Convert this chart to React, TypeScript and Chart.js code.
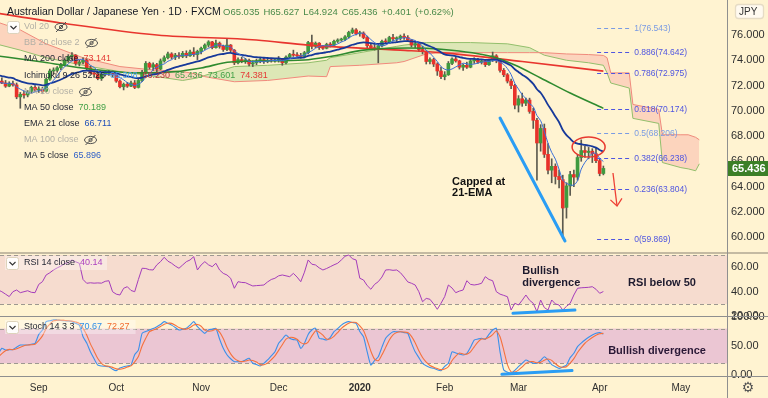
import React, { useEffect, useRef } from 'react';
import { Chart, registerables } from 'chart.js';

Chart.register(...registerables);

// ---------------- categories (trading days) ----------------
const FIRST_BAR = '2019-08-14';
const FIRST_VISIBLE = '2019-08-19';
const LAST_AXIS_DAY = '2020-05-19';
const MONTHS = ['Jan', 'Feb', 'Mar', 'Apr', 'May', 'Jun', 'Jul', 'Aug', 'Sep', 'Oct', 'Nov', 'Dec'];

function weekdays(from: string, to: string): string[] {
  const out: string[] = [];
  const d = new Date(from + 'T00:00:00Z');
  const end = new Date(to + 'T00:00:00Z');
  while (d <= end) {
    const wd = d.getUTCDay();
    if (wd !== 0 && wd !== 6) out.push(d.toISOString().slice(0, 10));
    d.setUTCDate(d.getUTCDate() + 1);
  }
  return out;
}
const dates = weekdays(FIRST_BAR, LAST_AXIS_DAY);

// ---------------- OHLC (AUD/JPY daily) ----------------
const open = [
  72.30, 72.05, 72.25, 72.35, 72.20, 71.95, 72.15, 72.05, 71.10, 71.30,
  71.25, 71.50, 71.85, 71.65, 71.70, 71.55, 72.50, 73.15, 73.20, 73.40,
  73.65, 74.00, 74.30, 74.40, 73.75, 73.85, 74.00, 73.40, 73.00, 72.90,
  72.55, 72.90, 72.95, 73.05, 72.85, 72.35, 71.90, 72.10, 71.95, 72.20,
  71.85, 72.40, 73.05, 73.75, 73.45, 73.65, 73.30, 73.95, 74.20, 74.50,
  74.25, 74.40, 74.30, 74.55, 74.35, 74.65, 74.45, 74.70, 74.95, 75.20,
  75.45, 75.00, 75.35, 75.10, 74.85, 75.20, 74.80, 73.80, 74.05, 73.95,
  74.00, 73.70, 73.80, 73.95, 74.05, 73.90, 74.00, 73.95, 74.00, 74.10,
  73.80, 74.25, 74.45, 74.40, 74.35, 74.30, 74.60, 75.40, 75.10, 75.35,
  75.00, 74.95, 75.25, 75.20, 75.50, 75.60, 75.65, 75.85, 76.20, 76.40,
  76.10, 76.15, 75.80, 75.15, 75.00, 74.90, 75.15, 75.50, 75.45, 75.80,
  75.70, 75.75, 75.90, 75.80, 75.60, 75.20, 75.30, 74.85, 74.70, 73.90,
  74.05, 73.70, 73.15, 72.70, 72.85, 73.75, 74.10, 73.95, 73.45, 73.60,
  73.45, 73.95, 74.05, 73.85, 73.95, 73.65, 74.00, 74.35, 73.95, 73.20,
  72.85, 72.35, 72.00, 70.45, 70.95, 70.60, 70.85, 69.95, 69.25, 67.45,
  68.60, 66.55, 65.30, 65.60, 64.80, 64.55, 62.35, 64.05, 64.95, 64.75,
  66.30, 66.85, 66.70, 66.80, 66.60, 66.05, 65.035,
];
const high = [
  72.55, 72.35, 72.50, 72.60, 72.40, 72.30, 72.35, 72.20, 71.45, 71.55,
  71.60, 71.95, 72.00, 71.90, 71.85, 72.60, 73.30, 73.40, 73.50, 73.75,
  74.10, 74.45, 74.60, 74.45, 74.00, 74.20, 74.10, 73.55, 73.15, 73.00,
  73.00, 73.10, 73.20, 73.15, 73.10, 72.45, 72.20, 72.25, 72.35, 72.40,
  72.50, 73.20, 73.90, 73.85, 73.80, 73.75, 74.10, 74.35, 74.65, 74.60,
  74.55, 74.60, 74.70, 74.75, 74.80, 75.00, 74.80, 75.05, 75.30, 75.55,
  75.50, 75.60, 75.45, 75.20, 75.70, 75.25, 74.85, 74.20, 74.25, 74.15,
  74.10, 73.95, 74.10, 74.15, 74.15, 74.10, 74.15, 74.10, 74.30, 74.15,
  74.35, 74.55, 74.80, 74.60, 74.55, 74.70, 75.50, 76.00, 75.45, 75.40,
  75.15, 75.35, 75.40, 75.60, 75.70, 75.75, 75.95, 76.30, 76.55, 76.50,
  76.30, 76.25, 75.90, 75.30, 75.25, 75.30, 75.60, 75.70, 75.90, 76.05,
  75.85, 76.00, 76.10, 75.95, 75.65, 75.45, 75.35, 75.10, 74.75, 74.20,
  74.15, 73.80, 73.45, 73.10, 73.90, 74.20, 74.25, 74.00, 73.70, 73.85,
  74.05, 74.20, 74.15, 74.05, 74.00, 74.10, 74.65, 74.45, 74.00, 73.35,
  72.95, 72.50, 72.10, 71.20, 71.40, 71.00, 71.00, 70.20, 69.40, 68.90,
  68.95, 67.40, 66.20, 65.80, 65.30, 64.90, 64.30, 65.20, 65.30, 66.50,
  67.70, 67.20, 67.10, 67.00, 67.10, 66.20, 65.627,
];
const low = [
  71.90, 71.80, 72.10, 72.15, 71.85, 71.90, 71.95, 70.95, 70.20, 71.00,
  71.10, 71.40, 71.50, 71.45, 71.35, 71.50, 72.40, 72.90, 73.05, 73.25,
  73.55, 73.85, 74.05, 73.60, 73.55, 73.70, 73.25, 72.90, 72.65, 72.45,
  72.40, 72.75, 72.80, 72.70, 72.25, 71.80, 71.65, 71.85, 71.90, 71.75,
  71.80, 72.30, 72.95, 73.30, 73.20, 73.10, 73.25, 73.85, 74.10, 74.10,
  74.05, 74.15, 74.20, 74.20, 74.30, 74.30, 74.05, 74.50, 74.85, 75.05,
  74.90, 74.95, 74.95, 74.70, 74.75, 74.65, 73.65, 73.70, 73.80, 73.75,
  73.55, 73.50, 73.65, 73.80, 73.75, 73.80, 73.85, 73.85, 73.85, 73.60,
  73.70, 74.15, 74.30, 74.25, 74.15, 74.20, 74.50, 74.90, 75.00, 74.85,
  74.85, 74.90, 75.05, 75.15, 75.40, 75.50, 75.55, 75.75, 76.10, 76.00,
  75.90, 75.70, 75.00, 74.85, 74.80, 73.80, 75.05, 75.30, 75.40, 75.55,
  75.50, 75.60, 75.65, 75.50, 75.05, 75.00, 74.70, 74.50, 73.70, 73.70,
  73.50, 72.80, 72.55, 72.45, 72.80, 73.65, 73.85, 73.30, 73.20, 73.35,
  73.40, 73.75, 73.75, 73.70, 73.50, 73.60, 73.90, 73.80, 73.05, 72.70,
  72.20, 71.75, 70.15, 69.90, 70.35, 70.40, 69.80, 68.60, 64.50, 66.80,
  66.30, 65.00, 64.30, 64.20, 63.90, 59.87, 61.50, 63.30, 64.00, 64.50,
  66.00, 66.30, 66.20, 65.90, 65.90, 64.85, 64.924,
];
const close = [
  72.05, 72.25, 72.35, 72.20, 71.95, 72.15, 72.05, 71.10, 71.30, 71.25,
  71.50, 71.85, 71.65, 71.70, 71.55, 72.50, 73.15, 73.20, 73.40, 73.65,
  74.00, 74.30, 74.40, 73.75, 73.85, 74.00, 73.40, 73.00, 72.90, 72.55,
  72.90, 72.95, 73.05, 72.85, 72.35, 71.90, 72.10, 71.95, 72.20, 71.85,
  72.40, 73.05, 73.75, 73.45, 73.65, 73.30, 73.95, 74.20, 74.50, 74.25,
  74.40, 74.30, 74.55, 74.35, 74.65, 74.45, 74.70, 74.95, 75.20, 75.45,
  75.00, 75.35, 75.10, 74.85, 75.20, 74.80, 73.80, 74.05, 73.95, 74.00,
  73.70, 73.80, 73.95, 74.05, 73.90, 74.00, 73.95, 74.00, 74.10, 73.80,
  74.25, 74.45, 74.40, 74.35, 74.30, 74.60, 75.40, 75.10, 75.35, 75.00,
  74.95, 75.25, 75.20, 75.50, 75.60, 75.65, 75.85, 76.20, 76.40, 76.10,
  76.15, 75.80, 75.15, 75.00, 74.90, 75.15, 75.50, 75.45, 75.80, 75.70,
  75.75, 75.90, 75.80, 75.60, 75.20, 75.30, 74.85, 74.70, 73.90, 74.05,
  73.70, 73.15, 72.70, 72.85, 73.75, 74.10, 73.95, 73.45, 73.60, 73.45,
  73.95, 74.05, 73.85, 73.95, 73.65, 74.00, 74.35, 73.95, 73.20, 72.85,
  72.35, 72.00, 70.45, 70.95, 70.60, 70.85, 69.95, 69.25, 67.45, 68.60,
  66.55, 65.30, 65.60, 64.80, 64.55, 62.30, 64.05, 64.95, 64.75, 66.30,
  66.85, 66.70, 66.80, 66.60, 66.05, 65.035, 65.436,
];

// ---------------- indicators ----------------
const EMA21_SEED = 73.0; // EMA value just before the first bar (read)
const ma50Idx = [0, 14, 27, 40, 50, 57, 65, 85, 92, 101, 113, 122, 136, 142, 149, 157, 166];
const ma50Val = [74.42, 73.86, 73.3, 73.0, 73.1, 73.39, 73.86, 74.02, 74.3, 74.8, 74.97, 74.87, 74.28, 73.62, 72.6, 71.4, 70.189];
const ma200Idx = [0, 19, 45, 72, 86, 111, 122, 144, 166];
const ma200Val = [77.8, 76.95, 76.0, 75.6, 75.2, 74.8, 74.6, 73.9, 73.141];
const cloudIdx = [0, 8, 15, 25, 35, 45, 52, 56, 58, 66, 75, 86, 91, 92, 100, 110, 112, 118, 122, 130, 140, 146, 150, 156, 162, 166, 167, 168, 173, 174, 181, 182, 187, 189, 191, 192];
const senkouA = [75.4, 74.8, 74.2, 73.6, 73.1, 72.7, 72.4, 72.6, 72.8, 73.5, 73.6, 73.8, 74.0, 74.2, 74.6, 75.1, 75.2, 75.4, 75.4, 75.4, 75.3, 75.0, 74.4, 74.0, 73.8, 73.601, 73.0, 72.2, 71.8, 69.4, 69.0, 65.9, 65.5, 65.4, 65.25, 65.8];
const senkouB = [77.2, 76.4, 75.3, 74.2, 73.5, 73.2, 73.1, 72.9, 72.7, 72.3, 72.4, 72.75, 72.7, 73.5, 73.6, 73.8, 73.9, 74.5, 74.6, 74.6, 74.6, 74.6, 74.6, 74.5, 74.45, 74.381, 74.2, 73.0, 73.0, 70.5, 70.1, 68.1, 68.1, 68.1, 67.9, 67.7];

const rsi14 = [
  40, 40.5, 41.4, 40, 38, 36, 40, 41.4, 39.2, 40,
  40.8, 39.5, 39.2, 46, 48.2, 53.7, 55.5, 57.8, 59.5, 61,
  63, 63.8, 66, 64.5, 63.3, 50, 46.9, 47.3, 47, 47.2,
  47, 48.5, 49, 40, 38, 37.3, 42.8, 44.1, 41, 40,
  50, 59.2, 59, 58, 57.8, 62, 64.6, 68.2, 65, 63.3,
  61, 59.2, 61.9, 64.6, 66, 68.7, 57.8, 61.9, 64.6, 62,
  60.5, 63.3, 57.8, 55, 53.7, 51, 42.8, 48.2, 47.6, 47.4,
  46, 44.7, 45, 45.2, 45.5, 48, 50, 51, 53, 53.7,
  53, 52.3, 55, 52, 48.2, 56, 66, 62.5, 61.9, 59.5,
  57.8, 59, 60.5, 62, 63.3, 66, 69, 70.1, 67, 66,
  51, 49.6, 45, 42, 46, 48.2, 52, 57.8, 58, 57.5,
  57.8, 55.6, 52, 48, 46.9, 45.5, 40, 31.8, 34.5, 33.8,
  30, 25.6, 30.5, 36, 45.5, 43, 39.2, 40.5, 41.4, 49,
  46, 45.5, 46, 46.9, 52.3, 50, 49, 40, 38, 37,
  35.9, 25, 30.5, 29.1, 33, 37.3, 33, 30.5, 23.6, 33.2,
  27, 25, 33.2, 30, 29.1, 25, 28, 30.5, 37.3, 42.8,
  43.2, 43.4, 43.6, 44.1, 42, 38.7, 40.14,
];
const stochK = [
  28.7, 28.7, 36, 46, 43, 43.5, 44, 48, 51.7, 51.7,
  51.7, 53, 54.6, 70, 77.6, 92, 93.5, 94.8, 94.5, 94,
  93.6, 93, 92, 89, 86, 66, 55, 40, 28, 17.2,
  15.5, 15, 14.4, 10, 7.5, 12, 14.4, 15.5, 17.2, 35,
  43, 71.8, 75, 77.6, 80, 83.3, 87, 92, 89, 86,
  82, 77.6, 79, 80.5, 86, 92, 83.3, 77, 71.8, 77.6,
  79, 80.5, 62, 46, 35, 28, 23, 23, 23, 26,
  28.7, 20.2, 18, 15.5, 20, 25.9, 33, 40, 54.6, 62,
  69, 63.3, 61, 60.3, 46, 54.6, 70, 77.6, 80.5, 63.3,
  62, 60.3, 65, 74.6, 80, 86, 90, 92, 90.5, 89,
  75, 66, 40, 17.2, 25, 31.6, 48, 63.3, 70, 74.6,
  74.6, 74.6, 73, 71.8, 55, 40, 30, 20.2, 16, 13,
  11.5, 9, 7.5, 15, 20.2, 40, 38, 36, 34.5, 37.4,
  48, 60.3, 62, 63.3, 61.5, 70, 77.6, 80.5, 40, 8.6,
  5, 2.9, 8, 14.4, 20, 25.9, 23, 20.2, 20.2, 25,
  31.6, 25.9, 18, 14.4, 11.5, 14, 17.2, 30, 37.4, 48.9,
  55, 60.3, 65, 69, 71.8, 73, 70.67,
];

// ---------------- Fibonacci retracement ----------------
const fibLevels = [1, 0.886, 0.786, 0.618, 0.5, 0.382, 0.236, 0];
const fibPrices = [76.543, 74.642, 72.975, 70.174, 68.206, 66.238, 63.804, 59.869];
const fibSpan = [164.3, 173.8]; // bar indexes

// ---------------- drawings (data coordinates: [barIndex, value]) ----------------
const wedgeLine = [[138.0, 69.43], [155.6, 59.69]];
const rsiDivLine = [[141.5, 22.3], [158.3, 25.0]];
const stochDivLine = [[138.5, 1.2], [157.5, 7.8]];
const capEllipse = [162.0, 67.13];
const downArrow = [[168.6, 65.07], [169.7, 62.46]];
const noteCapped = { at: [125.0, 64.16], at2: [125.0, 63.25], lines: ['Capped at', '21-EMA'] };
const noteRsiDiv = { at: [144.0, 54.5], at2: [144.0, 44.7], lines: ['Bullish', 'divergence'] };
const noteRsi50 = { at: [172.7, 44.7], text: 'RSI below 50' };
const noteStochDiv = { at: [167.3, 36.2], text: 'Bullish divergence' };

// ---------------- axis ticks ----------------
const priceTicks = [60, 62, 64, 66, 68, 70, 72, 74, 76];
const rsiTicks = [20, 40, 60];
const stochTicks = [0, 50, 100];

// ---------------- legend texts ----------------
const TITLE = 'Australian Dollar / Japanese Yen · 1D · FXCM';
const OHLC_TEXT = ['O65.035', 'H65.627', 'L64.924', 'C65.436', '+0.401', '(+0.62%)'];
const ICHI_VALUES = ['65.308', '66.230', '65.436', '73.601', '74.381'];
const LEG_MA200 = '73.141';
const LEG_MA50 = '70.189';
const LEG_EMA21 = '66.711';
const LEG_MA5 = '65.896';
const LEG_RSI = '40.14';
const LEG_K = '70.67';
const LEG_D = '72.27';

// ---------------- styles ----------------
const FONT = "'Liberation Sans', Arial, Helvetica, sans-serif";
const BG = '#fff3d1';
const RSI_BAND = '#f6dccf';
const STOCH_BAND = '#ebc6d3';
const UP = '#3f9a3f';
const DOWN = '#e8312a';
const WICK = '#5c5a4e';
const BLUE_DRAW = '#2a9df4';

// ---------------- derived series (indicator definitions) ----------------
const N = close.length;
const ma5 = close.map((_, i) => {
  const s = close.slice(Math.max(0, i - 4), i + 1);
  return s.reduce((a, b) => a + b, 0) / s.length;
});
const ema21: number[] = [];
{
  const k = 2 / 22;
  let e = EMA21_SEED;
  close.forEach((c) => { e = e + k * (c - e); ema21.push(e); });
}
const stochD = stochK.map((_, i) => {
  const s = stochK.slice(Math.max(0, i - 2), i + 1);
  return s.reduce((a, b) => a + b, 0) / s.length;
});
const pts = (idx: number[], vals: number[]) => idx.map((i, k) => ({ x: dates[i], y: vals[k] }));

const wickData = dates.map((_, i) => (i < N ? [low[i], high[i]] : null));
const bodyData = dates.map((_, i) => (i < N ? [open[i], close[i]] : null));
const bodyColors = open.map((o, i) => (close[i] >= o ? UP : DOWN));

// ---------------- drawing helpers ----------------
function hline(ctx: any, x0: number, x1: number, y: number, color: string, w: number) {
  ctx.strokeStyle = color; ctx.lineWidth = w;
  ctx.beginPath(); ctx.moveTo(x0, y); ctx.lineTo(x1, y); ctx.stroke();
}
function band(ctx: any, x0: number, x1: number, yTop: number, yBot: number, fill: string) {
  ctx.fillStyle = fill;
  ctx.fillRect(x0, yTop, x1 - x0, yBot - yTop);
  ctx.setLineDash([4, 3]);
  hline(ctx, x0, x1, Math.round(yTop) + 0.5, '#9d9890', 1);
  hline(ctx, x0, x1, Math.round(yBot) + 0.5, '#9d9890', 1);
  ctx.setLineDash([]);
}
function eyeOff(ctx: any, cx: number, cy: number) {
  ctx.save();
  ctx.strokeStyle = '#505050'; ctx.lineWidth = 1;
  ctx.beginPath(); ctx.ellipse(cx, cy, 6, 3.6, 0, 0, Math.PI * 2); ctx.stroke();
  ctx.beginPath(); ctx.arc(cx, cy, 1.6, 0, Math.PI * 2); ctx.stroke();
  ctx.beginPath(); ctx.moveTo(cx - 5, cy + 5); ctx.lineTo(cx + 5, cy - 5); ctx.stroke();
  ctx.restore();
}
function chevronBox(ctx: any, x: number, y: number) {
  ctx.save();
  ctx.fillStyle = 'rgba(255,255,255,0.9)';
  ctx.strokeStyle = '#ddd3bb'; ctx.lineWidth = 1;
  ctx.beginPath();
  (ctx as any).roundRect(x + 0.5, y + 0.5, 12, 12, 2);
  ctx.fill(); ctx.stroke();
  ctx.strokeStyle = '#333'; ctx.lineWidth = 1.1;
  ctx.beginPath(); ctx.moveTo(x + 3.5, y + 5); ctx.lineTo(x + 6.5, y + 8); ctx.lineTo(x + 9.5, y + 5); ctx.stroke();
  ctx.restore();
}
function text(ctx: any, s: string, x: number, y: number, color: string, font: string) {
  ctx.font = font; ctx.fillStyle = color;
  ctx.fillText(s, x, y);
  return x + ctx.measureText(s).width;
}

const overlay = {
  id: 'overlay',
  beforeDraw(chart: any) {
    const { ctx } = chart;
    const ca = chart.chartArea;
    const R = chart.scales.yRsi, S = chart.scales.yStoch;
    ctx.save();
    ctx.fillStyle = BG;
    ctx.fillRect(0, 0, chart.width, chart.height);
    band(ctx, ca.left, ca.right, R.getPixelForValue(70), R.getPixelForValue(30), RSI_BAND);
    band(ctx, ca.left, ca.right, S.getPixelForValue(80), S.getPixelForValue(20), STOCH_BAND);
    ctx.restore();
  },
  afterDraw(chart: any) {
    const { ctx } = chart;
    const ca = chart.chartArea;
    const X = chart.scales.x, Y = chart.scales.y, R = chart.scales.yRsi, S = chart.scales.yStoch;
    const W = chart.width, H = chart.height;
    const px = (i: number) => X.getPixelForValue(i);
    ctx.save();

    // panel separators & price-axis border
    hline(ctx, 0, W, Math.round(R.top), '#c4baa2', 2);
    hline(ctx, 0, W, Math.round(S.top) + 0.5, '#8f8f8f', 1);
    hline(ctx, 0, W, Math.round(ca.bottom) + 0.5, '#8f8f8f', 1);
    ctx.strokeStyle = '#8f8f8f'; ctx.lineWidth = 1;
    ctx.beginPath(); ctx.moveTo(Math.round(ca.right) + 0.5, 0); ctx.lineTo(Math.round(ca.right) + 0.5, H); ctx.stroke();

    // Fibonacci retracement
    ctx.font = `8.5px ${FONT}`;
    ctx.textBaseline = 'middle';
    fibLevels.forEach((lv, k) => {
      const y = Math.round(Y.getPixelForValue(fibPrices[k])) + 0.5;
      const light = lv === 1 || lv === 0.5;
      const col = light ? '#7a9be3' : '#4f55e0';
      ctx.setLineDash([4, 3]);
      hline(ctx, px(fibSpan[0]), px(fibSpan[1]), y, col, 1);
      ctx.setLineDash([]);
      ctx.fillStyle = col;
      ctx.fillText(`${lv}(${fibPrices[k].toFixed(3)})`, px(fibSpan[1]) + 2, y);
    });

    // blue drawn lines
    const seg = (pts: number[][], sc: any) => {
      ctx.strokeStyle = BLUE_DRAW; ctx.lineWidth = 3; ctx.lineCap = 'round';
      ctx.beginPath();
      ctx.moveTo(px(pts[0][0]), sc.getPixelForValue(pts[0][1]));
      ctx.lineTo(px(pts[1][0]), sc.getPixelForValue(pts[1][1]));
      ctx.stroke();
      ctx.lineCap = 'butt';
    };
    seg(wedgeLine, Y);
    seg(rsiDivLine, R);
    seg(stochDivLine, S);

    // red ellipse
    ctx.strokeStyle = '#e8392f'; ctx.lineWidth = 1.5;
    ctx.beginPath();
    ctx.ellipse(px(capEllipse[0]), Y.getPixelForValue(capEllipse[1]), 16.5, 10, 0, 0, Math.PI * 2);
    ctx.stroke();

    // red arrow
    const ax0 = px(downArrow[0][0]), ay0 = Y.getPixelForValue(downArrow[0][1]);
    const ax1 = px(downArrow[1][0]), ay1 = Y.getPixelForValue(downArrow[1][1]);
    ctx.strokeStyle = '#ee4035'; ctx.lineWidth = 1.3;
    ctx.beginPath(); ctx.moveTo(ax0, ay0); ctx.lineTo(ax1, ay1); ctx.stroke();
    const ang = Math.atan2(ay1 - ay0, ax1 - ax0);
    ctx.beginPath();
    ctx.moveTo(ax1 + 9 * Math.cos(ang + Math.PI - 0.7), ay1 + 9 * Math.sin(ang + Math.PI - 0.7));
    ctx.lineTo(ax1, ay1);
    ctx.lineTo(ax1 + 9 * Math.cos(ang + Math.PI + 0.7), ay1 + 9 * Math.sin(ang + Math.PI + 0.7));
    ctx.stroke();

    // annotation texts
    ctx.textBaseline = 'alphabetic';
    const bold = `bold 11px ${FONT}`;
    text(ctx, noteCapped.lines[0], px(noteCapped.at[0]), Y.getPixelForValue(noteCapped.at[1]), '#111', bold);
    text(ctx, noteCapped.lines[1], px(noteCapped.at2[0]), Y.getPixelForValue(noteCapped.at2[1]), '#111', bold);
    text(ctx, noteRsiDiv.lines[0], px(noteRsiDiv.at[0]), R.getPixelForValue(noteRsiDiv.at[1]), '#1d1a2e', bold);
    text(ctx, noteRsiDiv.lines[1], px(noteRsiDiv.at2[0]), R.getPixelForValue(noteRsiDiv.at2[1]), '#1d1a2e', bold);
    text(ctx, noteRsi50.text, px(noteRsi50.at[0]), R.getPixelForValue(noteRsi50.at[1]), '#1d1a2e', bold);
    text(ctx, noteStochDiv.text, px(noteStochDiv.at[0]), S.getPixelForValue(noteStochDiv.at[1]), '#2a1836', bold);

    // ---- main legend ----
    ctx.textBaseline = 'middle';
    let x = text(ctx, TITLE, 7, 12, '#131722', `10.5px ${FONT}`);
    x = 223;
    OHLC_TEXT.forEach((s) => { x = text(ctx, s, x, 12, '#4a8a4a', `9.5px ${FONT}`) + 4; });

    const lf = `9px ${FONT}`;
    const dark = '#1e2230';
    const grey = '#b3b0a6';
    chevronBox(ctx, 7, 21);
    x = text(ctx, 'Vol 20', 24, 27, grey, lf); eyeOff(ctx, x + 12, 27);
    x = text(ctx, 'BB 20 close 2', 24, 43, grey, lf); eyeOff(ctx, x + 12, 43);
    x = text(ctx, 'MA 200 close', 24, 59, dark, lf); text(ctx, LEG_MA200, x + 5, 59, '#e53935', lf);
    x = text(ctx, 'Ichimoku 9 26 52 26', 24, 76, dark, lf);
    const ichiCols = ['#4aa3f0', '#b23a3a', '#43a047', '#43a047', '#e53935'];
    ICHI_VALUES.forEach((v, k) => { x = text(ctx, v, x + 5, 76, ichiCols[k], lf); });
    x = text(ctx, 'MA 10 close', 24, 92, grey, lf); eyeOff(ctx, x + 12, 92);
    x = text(ctx, 'MA 50 close', 24, 108, dark, lf); text(ctx, LEG_MA50, x + 5, 108, '#43a047', lf);
    x = text(ctx, 'EMA 21 close', 24, 124, dark, lf); text(ctx, LEG_EMA21, x + 5, 124, '#1f4fb8', lf);
    x = text(ctx, 'MA 100 close', 24, 140, grey, lf); eyeOff(ctx, x + 12, 140);
    x = text(ctx, 'MA 5 close', 24, 156, dark, lf); text(ctx, LEG_MA5, x + 5, 156, '#2f5fc7', lf);

    // ---- RSI legend ----
    const ry = R.top + 10;
    ctx.font = lf;
    const rw = ctx.measureText('RSI 14 close ' + LEG_RSI).width;
    ctx.fillStyle = 'rgba(255,255,255,0.35)';
    ctx.fillRect(5, ry - 7, rw + 26, 14);
    chevronBox(ctx, 6, ry - 6);
    x = text(ctx, 'RSI 14 close', 24, ry, dark, lf);
    text(ctx, LEG_RSI, x + 5, ry, '#ab3fbf', lf);

    // ---- Stoch legend ----
    const sy = S.top + 11;
    ctx.font = lf;
    const sw = ctx.measureText('Stoch 14 3 3 ' + LEG_K + ' ' + LEG_D).width;
    ctx.fillStyle = 'rgba(255,255,255,0.35)';
    ctx.fillRect(5, sy - 7, sw + 30, 14);
    chevronBox(ctx, 6, sy - 6);
    x = text(ctx, 'Stoch 14 3 3', 24, sy, dark, lf);
    x = text(ctx, LEG_K, x + 5, sy, '#2f8fe8', lf);
    text(ctx, LEG_D, x + 5, sy, '#f26a2e', lf);

    // ---- last price label ----
    const py = Y.getPixelForValue(close[N - 1]);
    ctx.fillStyle = '#3c7f27';
    ctx.fillRect(ca.right + 1, Math.round(py) - 7, W - ca.right - 1, 15);
    ctx.textBaseline = 'middle';
    text(ctx, close[N - 1].toFixed(3), ca.right + 5, Math.round(py) + 0.5, '#fff', `bold 11px ${FONT}`);

    // ---- currency box ----
    ctx.fillStyle = '#fffaf0';
    ctx.strokeStyle = '#e6dcc5';
    ctx.beginPath(); (ctx as any).roundRect(735.5, 4.5, 28, 14, 3); ctx.fill(); ctx.stroke();
    text(ctx, 'JPY', 739, 12, '#333', `10px ${FONT}`);

    // ---- gear ----
    ctx.textAlign = 'center';
    text(ctx, '⚙', ca.right + 21, ca.bottom + 12, '#555', `14px 'DejaVu Sans', sans-serif`);
    ctx.restore();
  },
};

function yAxis(min: number, max: number, weight: number, ticks: number[], dec: number) {
  return {
    type: 'linear',
    position: 'right',
    stack: 'panes',
    stackWeight: weight,
    min, max,
    grid: { display: false, drawTicks: false },
    border: { display: false },
    ticks: {
      autoSkip: false,
      padding: 4,
      color: '#2f2f2f',
      font: { size: 11, family: FONT },
      callback: (v: any) => Number(v).toFixed(dec),
    },
    afterBuildTicks: (axis: any) => { axis.ticks = ticks.map((v) => ({ value: v })); },
    afterFit: (axis: any) => {
      axis.width = 41;
      axis.paddingTop = 0; axis.paddingBottom = 0; axis.paddingLeft = 0; axis.paddingRight = 0;
    },
  };
}

export default function App() {
  const ref = useRef<HTMLCanvasElement>(null);
  useEffect(() => {
    document.body.style.margin = '0';
    document.body.style.background = BG;
    Chart.defaults.font.family = FONT;
    const chart = new Chart(ref.current as HTMLCanvasElement, {
      type: 'bar',
      data: {
        labels: dates,
        datasets: [
          {
            type: 'line', label: 'Senkou A', data: pts(cloudIdx, senkouA) as any, yAxisID: 'y',
            borderColor: '#93bf6c', borderWidth: 1, pointRadius: 0, tension: 0, order: 21,
            fill: { target: '+1', above: '#dde7b6', below: '#fcd4bd' } as any,
          },
          {
            type: 'line', label: 'Senkou B', data: pts(cloudIdx, senkouB) as any, yAxisID: 'y',
            borderColor: '#f08a7c', borderWidth: 1, pointRadius: 0, tension: 0, order: 20, fill: false,
          },
          {
            type: 'bar', label: 'wick', data: wickData as any, yAxisID: 'y',
            backgroundColor: WICK, barThickness: 1, grouped: false, order: 11,
          } as any,
          {
            type: 'bar', label: 'body', data: bodyData as any, yAxisID: 'y',
            backgroundColor: bodyColors, barThickness: 3, grouped: false, minBarLength: 1, order: 10,
          } as any,
          {
            type: 'line', label: 'MA 200', data: pts(ma200Idx, ma200Val) as any, yAxisID: 'y',
            borderColor: '#e8352e', borderWidth: 1.6, pointRadius: 0, cubicInterpolationMode: 'monotone', order: 4,
          },
          {
            type: 'line', label: 'MA 50', data: pts(ma50Idx, ma50Val) as any, yAxisID: 'y',
            borderColor: '#2f8a2f', borderWidth: 1.6, pointRadius: 0, cubicInterpolationMode: 'monotone', order: 3,
          },
          {
            type: 'line', label: 'EMA 21', data: ema21, yAxisID: 'y',
            borderColor: '#17399a', borderWidth: 1.8, pointRadius: 0, tension: 0.3, order: 2,
          },
          {
            type: 'line', label: 'MA 5', data: ma5, yAxisID: 'y',
            borderColor: '#3a6fd8', borderWidth: 1, pointRadius: 0, tension: 0.3, order: 1,
          },
          {
            type: 'line', label: 'RSI', data: rsi14, yAxisID: 'yRsi',
            borderColor: '#a53dbb', borderWidth: 1, pointRadius: 0, tension: 0, order: 0,
          },
          {
            type: 'line', label: '%D', data: stochD, yAxisID: 'yStoch',
            borderColor: '#f5713d', borderWidth: 1.1, pointRadius: 0, tension: 0.2, order: 0,
          },
          {
            type: 'line', label: '%K', data: stochK, yAxisID: 'yStoch',
            borderColor: '#3b90ea', borderWidth: 1.1, pointRadius: 0, tension: 0.2, order: 0,
          },
        ],
      },
      options: {
        animation: false,
        responsive: false,
        maintainAspectRatio: false,
        devicePixelRatio: 1,
        layout: { padding: 0 },
        plugins: { legend: { display: false }, tooltip: { enabled: false } },
        scales: {
          x: {
            type: 'category',
            offset: true,
            min: FIRST_VISIBLE,
            max: LAST_AXIS_DAY,
            grid: { display: false, drawTicks: false },
            border: { display: false },
            ticks: {
              autoSkip: false,
              maxRotation: 0,
              minRotation: 0,
              padding: 6,
              color: '#2f2f2f',
              font: (c: any) => ({ size: 10, family: FONT, weight: c.tick && c.tick.label === '2020' ? 'bold' : 'normal' }),
              callback: (value: any) => {
                const i = Number(value);
                if (i <= 0) return '';
                const m = Number(dates[i].slice(5, 7));
                const pm = Number(dates[i - 1].slice(5, 7));
                if (m === pm) return '';
                return m === 1 ? dates[i].slice(0, 4) : MONTHS[m - 1];
              },
            },
            afterFit: (axis: any) => {
              axis.height = 22;
              axis.paddingLeft = 0; axis.paddingRight = 0; axis.paddingTop = 0; axis.paddingBottom = 0;
            },
          },
          y: yAxis(58.74, 78.77, 253, priceTicks, 3),
          yRsi: yAxis(20.1, 71.7, 63, rsiTicks, 2),
          yStoch: yAxis(-1.7, 101.7, 60, stochTicks, 2),
        } as any,
      },
      plugins: [overlay],
    } as any);
    return () => chart.destroy();
  }, []);
  return (
    <div style={{ width: 768, height: 398 }}>
      <canvas ref={ref} width={768} height={398} style={{ display: 'block' }} />
    </div>
  );
}
